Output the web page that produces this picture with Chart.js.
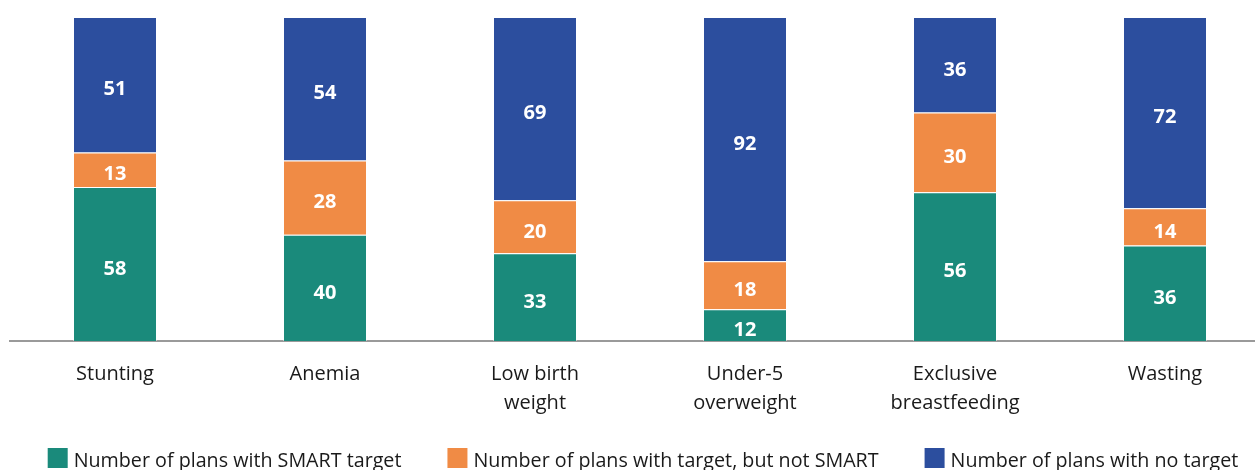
<!DOCTYPE html>
<html>
<head>
<meta charset="utf-8">
<script src="https://cdn.jsdelivr.net/npm/chart.js@4"></script>
<style>
  html, body { margin: 0; padding: 0; background: #fff; overflow: hidden; }
  #wrap { width: 1255px; height: 470px; overflow: hidden; position: relative; }
  #chart { display: block; }
</style>
</head>
<body>
<div id="wrap"><canvas id="chart" width="1270" height="470"></canvas></div>
<script>
// Categories and series (number of plans, stacked)
const categories = ['Stunting', 'Anemia', ['Low birth', 'weight'], ['Under-5', 'overweight'], ['Exclusive', 'breastfeeding'], 'Wasting'];
const smartTarget = [58, 40, 33, 12, 56, 36];
const targetNotSmart = [13, 28, 20, 18, 30, 14];
const noTarget = [51, 54, 69, 92, 36, 72];
const seriesNames = ['Number of plans with SMART target', 'Number of plans with target, but not SMART', 'Number of plans with no target'];
const seriesColors = ['#1a8a7b', '#f08b45', '#2c4e9e'];

const FONT = '"Open Sans", "Noto Sans", sans-serif';

// White value labels centred in each segment
const segmentLabels = {
    id: 'segmentLabels',
    afterDatasetsDraw(chart) {
        const ctx = chart.ctx;
        ctx.save();
        ctx.fillStyle = '#ffffff';
        ctx.font = 'bold 20px ' + FONT;
        ctx.textAlign = 'center';
        ctx.textBaseline = 'middle';
        chart.data.datasets.forEach((ds, i) => {
            const meta = chart.getDatasetMeta(i);
            meta.data.forEach((bar, j) => {
                const y = (bar.y + bar.base) / 2 + 5;
                ctx.fillText(String(ds.data[j]), bar.x, y);
            });
        });
        ctx.restore();
    }
};

// Legend row at the bottom (partly cut by the page edge, as in the original)
const bottomLegend = {
    id: 'bottomLegend',
    afterDraw(chart) {
        const ctx = chart.ctx;
        const box = 20, textGap = 6, itemGap = 46;
        ctx.save();
        ctx.font = '19.7px ' + FONT;
        const widths = chart.data.datasets.map(ds => box + textGap + ctx.measureText(ds.label).width);
        const total = widths.reduce((a, b) => a + b, 0) + itemGap * (widths.length - 1);
        const centre = (chart.chartArea.left + chart.chartArea.right) / 2 + 3;
        let x = centre - total / 2;
        const top = 448;
        chart.data.datasets.forEach((ds, i) => {
            ctx.fillStyle = ds.backgroundColor;
            ctx.fillRect(x, top, box, box);
            ctx.fillStyle = '#1a1a1a';
            ctx.textBaseline = 'middle';
            ctx.textAlign = 'left';
            ctx.fillText(ds.label, x + box + textGap, top + box / 2 + 3);
            x += widths[i] + itemGap;
        });
        ctx.restore();
    }
};

new Chart(document.getElementById('chart'), {
    type: 'bar',
    data: {
        labels: categories,
        datasets: [
            { label: seriesNames[0], data: smartTarget, backgroundColor: seriesColors[0] },
            { label: seriesNames[1], data: targetNotSmart, backgroundColor: seriesColors[1] },
            { label: seriesNames[2], data: noTarget, backgroundColor: seriesColors[2] }
        ].map(d => Object.assign(d, {
            borderColor: 'rgba(255,255,255,0.45)',
            borderWidth: 1,
            barPercentage: 1,
            categoryPercentage: 0.4
        }))
    },
    options: {
        responsive: false,
        animation: false,
        devicePixelRatio: 1,
        layout: { padding: { top: 17, left: 10, right: 0, bottom: 33 } },
        plugins: {
            legend: { display: false },
            tooltip: { enabled: false }
        },
        scales: {
            x: {
                stacked: true,
                grid: { display: false, drawTicks: false },
                border: { display: true, color: '#9a9a9a', width: 2 },
                ticks: {
                    color: '#1a1a1a',
                    font: { family: FONT, size: 20, lineHeight: 1.45 },
                    padding: 19,
                    maxRotation: 0,
                    autoSkip: false
                }
            },
            y: {
                stacked: true,
                display: false,
                min: 0,
                max: 122
            }
        }
    },
    plugins: [segmentLabels, bottomLegend]
});
</script>
</body>
</html>
